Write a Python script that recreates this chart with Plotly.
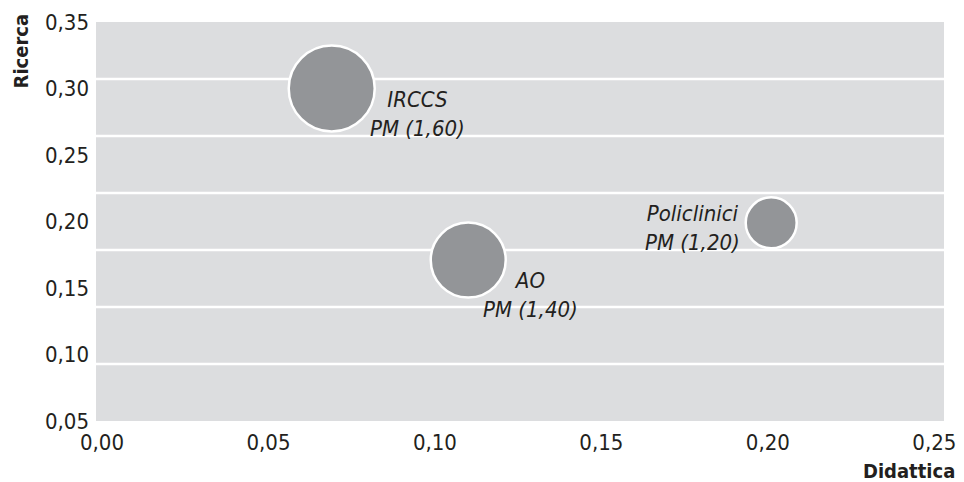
import plotly.graph_objects as go

# Data
categories = ["IRCCS", "AO", "Policlinici"]
didattica = [0.069, 0.110, 0.201]
ricerca = [0.300, 0.171, 0.199]
pm_labels = ["PM (1,60)", "PM (1,40)", "PM (1,20)"]
bubble_size = [86, 75, 51]

x_ticks = [0.00, 0.05, 0.10, 0.15, 0.20, 0.25]
x_ticktext = ["0,00", "0,05", "0,10", "0,15", "0,20", "0,25"]
y_ticks = [0.05, 0.10, 0.15, 0.20, 0.25, 0.30, 0.35]
y_ticktext = ["0,05", "0,10", "0,15", "0,20", "0,25", "0,30", "0,35"]

FONT = "Liberation Sans Narrow, DejaVu Sans Condensed, Arial Narrow, sans-serif"
TXT = "#231f20"

fig = go.Figure()
fig.add_trace(go.Scatter(
    x=didattica, y=ricerca, mode="markers",
    marker=dict(size=bubble_size, sizemode="diameter", color="#939598",
                opacity=1, line=dict(color="white", width=2.5)),
    hoverinfo="skip", showlegend=False,
))

# label offsets (pixels) relative to each bubble
shifts = [(86, -25), (62, -35), (-79, -5)]
for cat, x, y, pm, (dx, dy) in zip(categories, didattica, ricerca, pm_labels, shifts):
    fig.add_annotation(x=x, y=y, xref="x", yref="y", text=f"<i>{cat}<br>{pm}</i>",
                       showarrow=False, xshift=dx, yshift=dy, align="center",
                       font=dict(family=FONT, size=22, color=TXT))

# horizontal white band lines (7 equal bands)
for k in range(1, 7):
    fig.add_shape(type="line", xref="paper", yref="paper", x0=0, x1=1,
                  y0=k / 7, y1=k / 7, line=dict(color="white", width=2.5), layer="below")

fig.add_annotation(text="<b>Ricerca</b>", xref="paper", yref="paper", x=-0.0873, y=1.0276,
                   xanchor="center", yanchor="top", textangle=-90, showarrow=False,
                   font=dict(family=FONT, size=20, color=TXT))
fig.add_annotation(text="<b>Didattica</b>", xref="paper", yref="paper", x=1.0153, y=-0.09,
                   xanchor="right", yanchor="top", showarrow=False,
                   font=dict(family=FONT, size=20, color=TXT))

fig.update_layout(
    width=956, height=474,
    margin=dict(l=88, r=20, t=14, b=61),
    paper_bgcolor="white", plot_bgcolor="#dcdddf",
    font=dict(family=FONT, size=22, color=TXT),
    xaxis=dict(range=[-0.0018, 0.2529], tickvals=x_ticks, ticktext=x_ticktext,
               showgrid=False, zeroline=False, showline=False, ticks="",
               automargin=False, ticklabelstandoff=6,
               tickfont=dict(family=FONT, size=22, color=TXT)),
    yaxis=dict(range=[0.05, 0.35], tickvals=y_ticks, ticktext=y_ticktext,
               showgrid=False, zeroline=False, showline=False, ticks="",
               automargin=False, ticklabelstandoff=6,
               tickfont=dict(family=FONT, size=22, color=TXT)),
)

fig.write_html("out.html")
